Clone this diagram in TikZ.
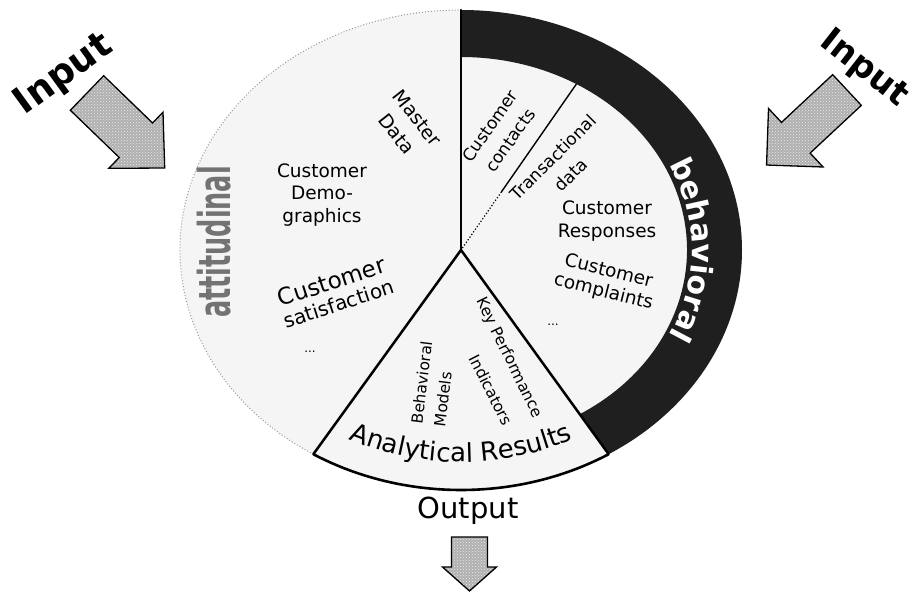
\documentclass[tikz,border=0pt]{standalone}
\usepackage{fontspec}
\setmainfont{DejaVu Sans}
\usetikzlibrary{decorations.text,patterns}
\begin{document}
\begin{tikzpicture}[x=1pt,y=1pt,
  sepline/.style={line width=2.5pt,line cap=round},
  blockarrow/.style={preaction={fill=gray!62},pattern=crosshatch dots,pattern color=white!85!gray,draw=black,line width=1.3pt,line join=miter},
  lbl/.style={inner sep=0pt,align=center,font=\fontsize{18.5}{22.5}\selectfont},
  bandfill/.style={fill=black!88},
  discfill/.style={fill=black!4}
]
\useasboundingbox (-461,-345) rectangle (457,250);
\fill[white] (-461,-345) rectangle (457,250);

\coordinate (C) at (0,0);
\coordinate (Ctop) at (0,240);
\coordinate (Cl) at (238.3:281pt and 240pt);
\coordinate (Cr) at (301.7:281pt and 240pt);
\coordinate (Ti) at (59.3:226pt and 193pt);
\coordinate (Tm) at (40.4,58.1);

% disc
\path[discfill] (C) ellipse[x radius=281pt,y radius=240pt];
% behavioral band
\path[bandfill] (Ctop) arc[start angle=90,end angle=-58.3,x radius=281pt,y radius=240pt]
  -- (-58.3:226pt and 193pt) arc[start angle=-58.3,end angle=90,x radius=226pt,y radius=193pt] -- cycle;
% outline
\draw[line width=2.6pt] (Cl) arc[start angle=238.3,end angle=301.7,x radius=281pt,y radius=240pt];
\draw[black!40,dotted,line width=1pt] (Cl) arc[start angle=238.3,end angle=90,x radius=281pt,y radius=240pt];

% separators
\draw[sepline] (C) -- (Ctop);
\draw[sepline] (C) -- (Cl);
\draw[sepline] (C) -- (Cr);
\draw[line width=1.4pt] (Ti) -- (Tm);
\draw[line width=1.2pt,dotted] (Tm) -- (C);

% labels
\node[lbl,rotate=-52,font=\fontsize{19}{26}\selectfont] (master) at (-54,124) {Master\\Data};
\node[lbl] (demo) at (-139,55) {Customer\\Demo-\\graphics};
\node[lbl,rotate=18] (satis) at (-126,-42) {{\fontsize{23}{26}\selectfont Customer}\\{\fontsize{20}{24}\selectfont satisfaction}};
\node[lbl,font=\fontsize{12}{12}\selectfont] (dotsl) at (-151,-102) {...};
\node[lbl,rotate=55,font=\fontsize{17}{25}\selectfont] (contacts) at (39,117) {Customer\\contacts};
\node[lbl,rotate=45,font=\fontsize{17}{25}\selectfont] (trans) at (101,84) {Transactional\\data};
\node[lbl] (resp) at (146,29) {Customer\\Responses};
\node[lbl,rotate=-14,font=\fontsize{18.5}{21}\selectfont] (compl) at (145,-32) {Customer\\complaints};
\node[lbl,font=\fontsize{12}{12}\selectfont] (dotsr) at (92,-75) {...};
\node[lbl,rotate=83,align=left,font=\fontsize{15.5}{23}\selectfont] (bmod) at (-28,-134) {Behavioral\\Models};
\node[lbl,rotate=-64,font=\fontsize{15.5}{18}\selectfont] (kpi1) at (48,-108) {Key Performance};
\node[lbl,rotate=-63,font=\fontsize{15.5}{18}\selectfont] (kpi2) at (30,-140) {Indicators};
\node[inner sep=0pt,rotate=90,text=black!55] (att) at (-247,8) {\scalebox{0.58}[1]{\fontsize{44}{44}\selectfont\bfseries attitudinal}};

% curved texts
\path[decorate,decoration={text along path,text align=center,text color=white,
  text={|\fontsize{30}{36}\selectfont\bfseries|behavioral}}]
  (70:231pt and 197pt) arc[start angle=70,end angle=-70,x radius=231pt,y radius=197pt];
\path[decorate,decoration={text along path,text align=center,
  text={|\fontsize{26}{30}\selectfont|Analytical Results}}]
  (200:248pt and 212pt) arc[start angle=200,end angle=340,x radius=248pt,y radius=212pt];

% input / output
\node[inner sep=0pt,rotate=36,font=\fontsize{37}{40}\selectfont\bfseries] (inl) at (-397,175) {Input};
\node[inner sep=0pt,rotate=-38,font=\fontsize{34}{38}\selectfont\bfseries] (inr) at (403,181) {Input};
\node[inner sep=0pt,anchor=base,font=\fontsize{29}{30}\selectfont] (out) at (7,-268) {Output};

\draw[blockarrow,shift={(-374,157)},rotate=-44] (0,-24) -- (68,-24) -- (68,-39) -- (108,0) -- (68,39) -- (68,24) -- (0,24) -- cycle;
\draw[blockarrow,shift={(386,160)},rotate=223] (0,-21) -- (70,-21) -- (70,-40) -- (110,0) -- (70,40) -- (70,21) -- (0,21) -- cycle;
\draw[blockarrow] (-9.5,-287) -- (26.5,-287) -- (26.5,-317) -- (35.5,-317) -- (8.5,-341) -- (-18.5,-317) -- (-9.5,-317) -- cycle;
\end{tikzpicture}
\end{document}
